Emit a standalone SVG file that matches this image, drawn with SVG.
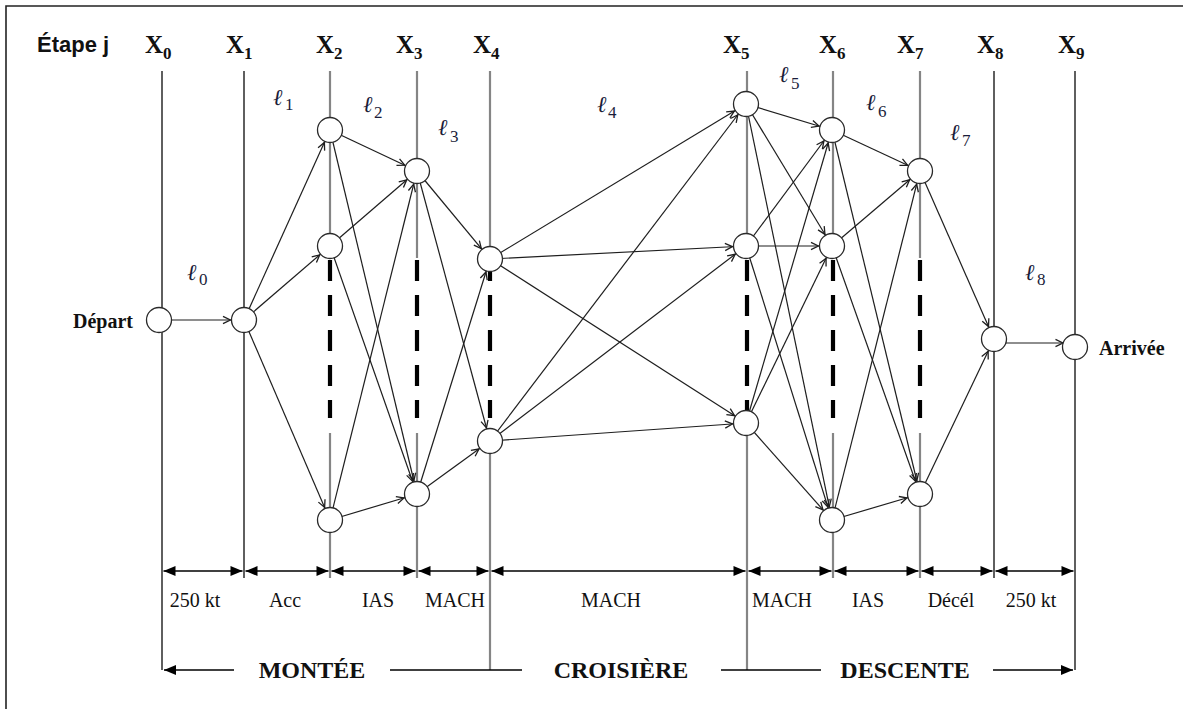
<svg xmlns="http://www.w3.org/2000/svg" width="1183" height="709" viewBox="0 0 1183 709">
<style>
.bg{fill:#fff}
.frame{fill:none;stroke:#222;stroke-width:1.6}
.vk{stroke:#2a2a2a;stroke-width:1.5;fill:none}
.vg{stroke:#858585;stroke-width:2.2;fill:none}
.dash{stroke:#000;stroke-width:4.2;stroke-dasharray:21 14;fill:none}
.edge{stroke:#1e1e1e;stroke-width:1.2;fill:none;marker-end:url(#arr)}
.dim{stroke:#000;stroke-width:1.5;fill:none;marker-start:url(#tri);marker-end:url(#tri)}
.phase{stroke:#000;stroke-width:1.5;fill:none}
.node circle{fill:#fff;stroke:#2a2a2a;stroke-width:1.3}
.step{font-family:"Liberation Sans",Arial,sans-serif;font-weight:bold;font-size:22px;fill:#111}
.xl{font-family:"Liberation Serif","Times New Roman",serif;font-weight:bold;font-size:25px;fill:#111}
.xs{font-size:17px}
.ell{font-family:"Liberation Serif","DejaVu Serif",serif;font-style:italic;font-size:23px;fill:#1a1d3a}
.es{font-style:normal;font-size:17px}
.end{font-family:"Liberation Serif","Times New Roman",serif;font-weight:bold;font-size:20px;fill:#111}
.seg{font-family:"Liberation Serif","Times New Roman",serif;font-size:20px;fill:#111;text-anchor:middle}
.ph{font-family:"Liberation Serif","Times New Roman",serif;font-weight:bold;font-size:24px;fill:#111;text-anchor:middle}
</style>
<defs>
<marker id="arr" markerUnits="userSpaceOnUse" viewBox="-24 -6 26 12" markerWidth="26" markerHeight="12" refX="0" refY="0" orient="auto" overflow="visible">
<path d="M-21,-3.6 L-13.6,0 L-21,3.6" fill="none" stroke="#1e1e1e" stroke-width="1.3"/>
</marker>
<marker id="tri" markerUnits="userSpaceOnUse" viewBox="-14 -7 16 14" markerWidth="16" markerHeight="14" refX="0" refY="0" orient="auto-start-reverse" overflow="visible">
<path d="M0,0 L-12,-5 L-12,5 Z" fill="#000"/>
</marker>
</defs>
<rect class="bg" x="0" y="0" width="1183" height="709"/>
<path class="frame" d="M6,720 L6,6 L1195,6"/>

<g id="axes">
<line class="vk" x1="162" y1="71" x2="162" y2="670"/>
<line class="vk" x1="244" y1="71" x2="244" y2="578"/>
<line class="vk" x1="994" y1="71" x2="994" y2="578"/>
<line class="vk" x1="1075" y1="71" x2="1075" y2="670"/>
<path class="vg" d="M330,71 V258 M330,433 V578"/>
<path class="vg" d="M417,71 V258 M417,433 V578"/>
<path class="vg" d="M490,71 V258 M490,433 V670"/>
<path class="vg" d="M747,71 V258 M747,433 V670"/>
<path class="vg" d="M833,71 V258 M833,433 V578"/>
<path class="vg" d="M920,71 V258 M920,433 V578"/>
<path class="dash" d="M330,260 V418 M417,260 V418 M490,260 V418 M747,260 V418 M833,260 V418 M920,260 V418"/>
</g>

<g id="connectors">
<line class="edge" x1="159" y1="320" x2="244" y2="320"/>
<line class="edge" x1="244" y1="320" x2="330" y2="130"/>
<line class="edge" x1="244" y1="320" x2="330" y2="246"/>
<line class="edge" x1="244" y1="320" x2="330" y2="520"/>
<line class="edge" x1="330" y1="130" x2="417" y2="171"/>
<line class="edge" x1="330" y1="130" x2="417" y2="494"/>
<line class="edge" x1="330" y1="246" x2="417" y2="171"/>
<line class="edge" x1="330" y1="246" x2="417" y2="494"/>
<line class="edge" x1="330" y1="520" x2="417" y2="171"/>
<line class="edge" x1="330" y1="520" x2="417" y2="494"/>
<line class="edge" x1="417" y1="171" x2="490" y2="259"/>
<line class="edge" x1="417" y1="171" x2="490" y2="441"/>
<line class="edge" x1="417" y1="494" x2="490" y2="259"/>
<line class="edge" x1="417" y1="494" x2="490" y2="441"/>
<line class="edge" x1="490" y1="259" x2="746" y2="104"/>
<line class="edge" x1="490" y1="259" x2="746" y2="246"/>
<line class="edge" x1="490" y1="259" x2="746" y2="423"/>
<line class="edge" x1="490" y1="441" x2="746" y2="104"/>
<line class="edge" x1="490" y1="441" x2="746" y2="246"/>
<line class="edge" x1="490" y1="441" x2="746" y2="423"/>
<line class="edge" x1="746" y1="104" x2="832" y2="130"/>
<line class="edge" x1="746" y1="104" x2="832" y2="246"/>
<line class="edge" x1="746" y1="104" x2="832" y2="520"/>
<line class="edge" x1="746" y1="246" x2="832" y2="130"/>
<line class="edge" x1="746" y1="246" x2="832" y2="246"/>
<line class="edge" x1="746" y1="246" x2="832" y2="520"/>
<line class="edge" x1="746" y1="423" x2="832" y2="130"/>
<line class="edge" x1="746" y1="423" x2="832" y2="246"/>
<line class="edge" x1="746" y1="423" x2="832" y2="520"/>
<line class="edge" x1="832" y1="130" x2="920" y2="171"/>
<line class="edge" x1="832" y1="130" x2="920" y2="494"/>
<line class="edge" x1="832" y1="246" x2="920" y2="171"/>
<line class="edge" x1="832" y1="246" x2="920" y2="494"/>
<line class="edge" x1="832" y1="520" x2="920" y2="171"/>
<line class="edge" x1="832" y1="520" x2="920" y2="494"/>
<line class="edge" x1="920" y1="171" x2="994" y2="339"/>
<line class="edge" x1="920" y1="494" x2="994" y2="339"/>
<line class="edge" x1="994" y1="343" x2="1076.5" y2="343"/>
</g>

<g id="nodes">
<g id="n-depart" class="node"><circle cx="159" cy="320" r="12.5"/></g>
<g id="n-x1" class="node"><circle cx="244" cy="320" r="12.5"/></g>
<g id="n-x2a" class="node"><circle cx="330" cy="130" r="12.5"/></g>
<g id="n-x2b" class="node"><circle cx="330" cy="246" r="12.5"/></g>
<g id="n-x2c" class="node"><circle cx="330" cy="520" r="12.5"/></g>
<g id="n-x3a" class="node"><circle cx="417" cy="171" r="12.5"/></g>
<g id="n-x3b" class="node"><circle cx="417" cy="494" r="12.5"/></g>
<g id="n-x4a" class="node"><circle cx="490" cy="259" r="12.5"/></g>
<g id="n-x4b" class="node"><circle cx="490" cy="441" r="12.5"/></g>
<g id="n-x5a" class="node"><circle cx="746" cy="104" r="12.5"/></g>
<g id="n-x5b" class="node"><circle cx="746" cy="246" r="12.5"/></g>
<g id="n-x5c" class="node"><circle cx="746" cy="423" r="12.5"/></g>
<g id="n-x6a" class="node"><circle cx="832" cy="130" r="12.5"/></g>
<g id="n-x6b" class="node"><circle cx="832" cy="246" r="12.5"/></g>
<g id="n-x6c" class="node"><circle cx="832" cy="520" r="12.5"/></g>
<g id="n-x7a" class="node"><circle cx="920" cy="171" r="12.5"/></g>
<g id="n-x7b" class="node"><circle cx="920" cy="494" r="12.5"/></g>
<g id="n-x8" class="node"><circle cx="994" cy="339" r="12.5"/></g>
<g id="n-arrivee" class="node"><circle cx="1075" cy="347" r="12.5"/></g>
</g>

<g id="dimensions">
<line class="dim" x1="163.5" y1="571" x2="242.5" y2="571"/>
<line class="dim" x1="245.5" y1="571" x2="328.5" y2="571"/>
<line class="dim" x1="331.5" y1="571" x2="415.5" y2="571"/>
<line class="dim" x1="418.5" y1="571" x2="488.5" y2="571"/>
<line class="dim" x1="491.5" y1="571" x2="745.5" y2="571"/>
<line class="dim" x1="748.5" y1="571" x2="831.5" y2="571"/>
<line class="dim" x1="834.5" y1="571" x2="918.5" y2="571"/>
<line class="dim" x1="921.5" y1="571" x2="992.5" y2="571"/>
<line class="dim" x1="995.5" y1="571" x2="1073.5" y2="571"/>
<line class="phase" x1="234" y1="670" x2="164" y2="670" marker-end="url(#tri)"/>
<line class="phase" x1="390" y1="670" x2="522" y2="670"/>
<line class="phase" x1="721" y1="670" x2="821" y2="670"/>
<line class="phase" x1="993" y1="670" x2="1073" y2="670" marker-end="url(#tri)"/>
</g>

<g id="labels">
<text class="step" x="37" y="52">Étape j</text>
<text class="xl" x="145" y="53">X<tspan class="xs" dy="6">0</tspan></text>
<text class="xl" x="226" y="53">X<tspan class="xs" dy="6">1</tspan></text>
<text class="xl" x="316" y="53">X<tspan class="xs" dy="6">2</tspan></text>
<text class="xl" x="396" y="53">X<tspan class="xs" dy="6">3</tspan></text>
<text class="xl" x="473" y="53">X<tspan class="xs" dy="6">4</tspan></text>
<text class="xl" x="723" y="53">X<tspan class="xs" dy="6">5</tspan></text>
<text class="xl" x="819" y="53">X<tspan class="xs" dy="6">6</tspan></text>
<text class="xl" x="897" y="53">X<tspan class="xs" dy="6">7</tspan></text>
<text class="xl" x="977" y="53">X<tspan class="xs" dy="6">8</tspan></text>
<text class="xl" x="1058" y="53">X<tspan class="xs" dy="6">9</tspan></text>

<text class="ell" x="187" y="280">ℓ<tspan class="es" x="199" dy="5">0</tspan></text>
<text class="ell" x="273" y="105">ℓ<tspan class="es" x="285" dy="5">1</tspan></text>
<text class="ell" x="363" y="112">ℓ<tspan class="es" x="374" dy="6">2</tspan></text>
<text class="ell" x="438" y="135">ℓ<tspan class="es" x="450" dy="7">3</tspan></text>
<text class="ell" x="597" y="112">ℓ<tspan class="es" x="608" dy="6">4</tspan></text>
<text class="ell" x="779" y="82">ℓ<tspan class="es" x="791" dy="7">5</tspan></text>
<text class="ell" x="866" y="110">ℓ<tspan class="es" x="878" dy="7">6</tspan></text>
<text class="ell" x="950" y="140">ℓ<tspan class="es" x="962" dy="6">7</tspan></text>
<text class="ell" x="1025" y="280">ℓ<tspan class="es" x="1037" dy="5">8</tspan></text>

<text class="end" x="133" y="328" text-anchor="end">Départ</text>
<text class="end" x="1099" y="355">Arrivée</text>

<text class="seg" x="195" y="607">250 kt</text>
<text class="seg" x="285" y="607">Acc</text>
<text class="seg" x="378" y="607">IAS</text>
<text class="seg" x="455" y="607">MACH</text>
<text class="seg" x="611" y="607">MACH</text>
<text class="seg" x="782" y="607">MACH</text>
<text class="seg" x="868" y="607">IAS</text>
<text class="seg" x="951" y="607">Décél</text>
<text class="seg" x="1031" y="607">250 kt</text>

<text class="ph" x="312" y="678">MONTÉE</text>
<text class="ph" x="621" y="678">CROISIÈRE</text>
<text class="ph" x="905" y="678">DESCENTE</text>
</g>
</svg>
